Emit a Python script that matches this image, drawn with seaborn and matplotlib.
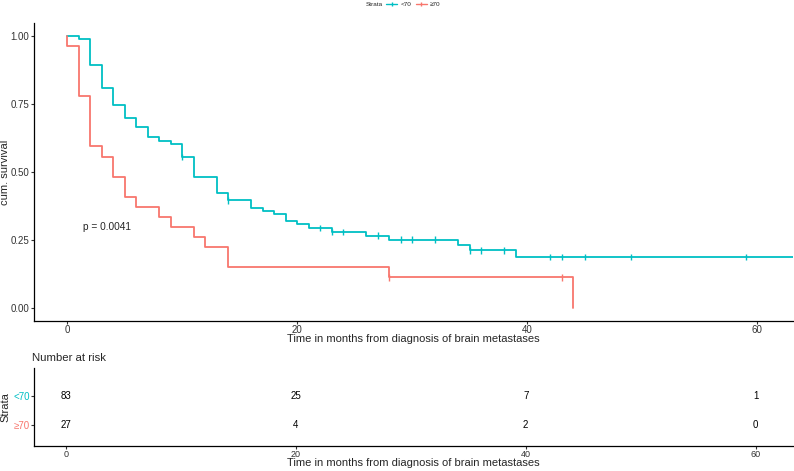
import numpy as np
import pandas as pd
import matplotlib
matplotlib.use("Agg")
import matplotlib.pyplot as plt
from matplotlib.lines import Line2D
import seaborn as sns

# Kaplan-Meier step data
strata = ["<70", "\u226570"]
colors = {"<70": "#00BFC4", "\u226570": "#F8766D"}

times_lt70 = [0, 1, 2, 3, 4, 5, 6, 7, 8, 9, 10, 11, 13, 14, 16, 17, 18, 19,
              20, 21, 23, 26, 28, 34, 35, 39, 64]
surv_lt70 = [1.0, 0.988, 0.892, 0.807, 0.747, 0.699, 0.663, 0.627, 0.614,
             0.602, 0.554, 0.482, 0.420, 0.395, 0.365, 0.356, 0.343, 0.319,
             0.307, 0.293, 0.279, 0.265, 0.250, 0.229, 0.211, 0.186, 0.186]
censor_lt70 = [10, 14, 22, 23, 24, 27, 29, 30, 32, 35, 36, 38, 42, 43, 45, 49, 59]

times_ge70 = [0, 0, 1, 2, 3, 4, 5, 6, 8, 9, 11, 12, 14, 28, 44]
surv_ge70 = [1.0, 0.963, 0.778, 0.593, 0.556, 0.481, 0.407, 0.370, 0.333,
             0.296, 0.259, 0.222, 0.148, 0.111, 0.0]
censor_ge70 = [28, 43]

risk_times = [0, 20, 40, 60]
risk_lt70 = [83, 25, 7, 1]
risk_ge70 = [27, 4, 2, 0]

pval_text = "p = 0.0041"
xlab = "Time in months from diagnosis of brain metastases"


def surv_at(times, surv, t):
    idx = np.searchsorted(times, t, side="right") - 1
    return surv[idx]


def style_axis(a, size=7):
    a.tick_params(labelsize=size, length=2.2, width=0.8, pad=1, colors="#333333")
    for s in ["top", "right"]:
        a.spines[s].set_visible(False)
    for s in ["left", "bottom"]:
        a.spines[s].set_linewidth(0.9)
        a.spines[s].set_color("black")


def make_plot():
    sns.set_theme(style="ticks")
    plt.rcParams["font.family"] = ["Liberation Sans", "DejaVu Sans"]

    steps = pd.concat([
        pd.DataFrame({"time": times_lt70, "surv": surv_lt70, "strata": "<70"}),
        pd.DataFrame({"time": times_ge70, "surv": surv_ge70, "strata": "\u226570"}),
    ], ignore_index=True)

    cens = pd.concat([
        pd.DataFrame({"time": censor_lt70,
                      "surv": [surv_at(times_lt70, surv_lt70, t) for t in censor_lt70],
                      "strata": "<70"}),
        pd.DataFrame({"time": censor_ge70,
                      "surv": [surv_at(times_ge70, surv_ge70, t) for t in censor_ge70],
                      "strata": "\u226570"}),
    ], ignore_index=True)

    fig = plt.figure(figsize=(7.94, 4.71), dpi=100)
    ax = fig.add_axes([34 / 794, 150 / 471, 759 / 794, 298 / 471])
    axt = fig.add_axes([34 / 794, 25 / 471, 759 / 794, 78 / 471])

    sns.lineplot(data=steps, x="time", y="surv", hue="strata", hue_order=strata,
                 palette=colors, estimator=None, sort=False, drawstyle="steps-post",
                 linewidth=1.3, legend=False, ax=ax)
    sns.scatterplot(data=cens, x="time", y="surv", hue="strata", hue_order=strata,
                    palette=colors, marker="|", s=22, linewidth=1.0,
                    legend=False, ax=ax)

    ax.set_xlim(-2.9, 63.1)
    ax.set_ylim(-0.049, 1.047)
    ax.set_xticks([0, 20, 40, 60])
    ax.set_yticks([0, 0.25, 0.5, 0.75, 1.0])
    ax.set_yticklabels(["0.00", "0.25", "0.50", "0.75", "1.00"])
    ax.set_xlabel(xlab, fontsize=8, labelpad=-1)
    ax.set_ylabel("cum. survival", fontsize=8)
    ax.yaxis.set_label_coords(-0.0316, 0.5)
    style_axis(ax)
    ax.text(1.4, 0.297, pval_text, fontsize=7.3, va="center", ha="left")

    # legend on top
    fig.text(383 / 794, 1 - 4.5 / 471, "Strata", fontsize=4.6, ha="right", va="center")
    handles = [Line2D([], [], color=colors[k], marker="|", markersize=3.5, lw=1.0)
               for k in strata]
    fig.legend(handles, strata, loc="center left", bbox_to_anchor=(386 / 794, 1 - 4.5 / 471),
               ncol=2, frameon=False, fontsize=4.6, handlelength=1.75, handletextpad=0.5,
               columnspacing=0.7, borderpad=0, borderaxespad=0)

    # risk table
    rows = {"<70": 2, "\u226570": 1}
    for k, vals in [("<70", risk_lt70), ("\u226570", risk_ge70)]:
        for t, n in zip(risk_times, vals):
            axt.text(t, rows[k], str(n), ha="center", va="center", fontsize=7,
                     color="black")
    axt.set_xlim(-2.76, 63.24)
    axt.set_ylim(0.29, 2.98)
    axt.set_xticks([0, 20, 40, 60])
    axt.set_yticks([2, 1])
    axt.set_yticklabels(strata)
    axt.set_xlabel(xlab, fontsize=8, va="top")
    axt.xaxis.set_label_coords(0.5, -0.158)
    axt.set_ylabel("Strata", fontsize=8)
    axt.yaxis.set_label_coords(-0.0316, 0.5)
    style_axis(axt, size=6.5)
    axt.tick_params(axis="y", labelsize=7)
    for lab, k in zip(axt.get_yticklabels(), strata):
        lab.set_color(colors[k])
    fig.text(32 / 794, 1 - 358 / 471, "Number at risk", fontsize=8.2, ha="left", va="center")

    fig.savefig("out.png", dpi=100)


if __name__ == "__main__":
    make_plot()
